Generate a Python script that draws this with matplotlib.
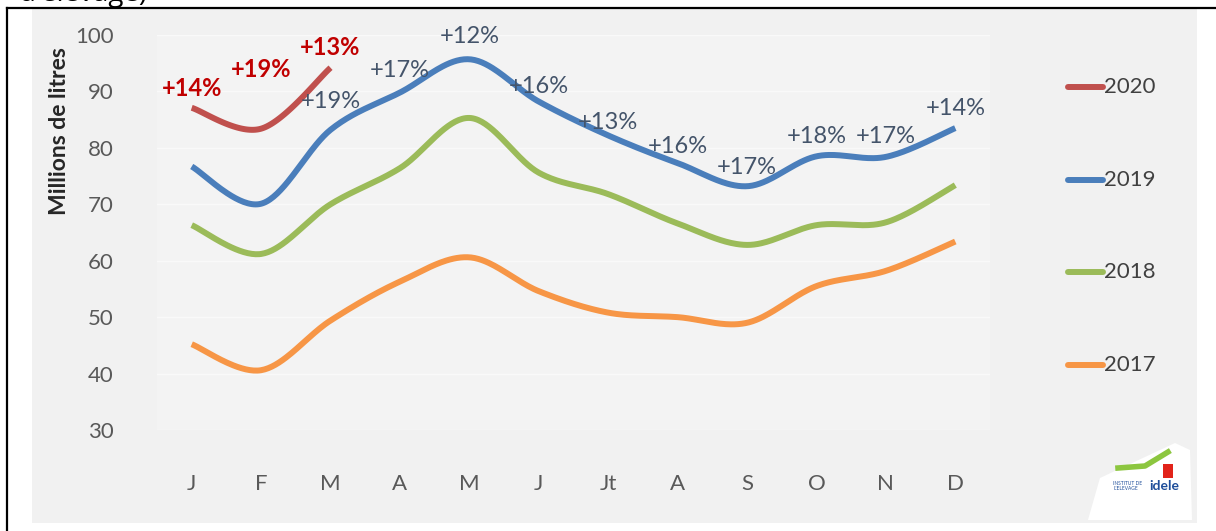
import numpy as np
import matplotlib
matplotlib.use("Agg")
import matplotlib.pyplot as plt
from matplotlib.lines import Line2D
from matplotlib.patches import Rectangle, Polygon

plt.rcParams['font.family'] = ['Lato', 'DejaVu Sans']

months = ['J', 'F', 'M', 'A', 'M', 'J', 'Jt', 'A', 'S', 'O', 'N', 'D']
v2017 = [45.2, 40.6, 49.4, 56.3, 60.6, 54.6, 50.8, 50.0, 49.0, 55.5, 58.2, 63.4]
v2018 = [66.3, 61.2, 70.0, 76.4, 85.3, 75.6, 71.8, 66.6, 62.8, 66.3, 66.8, 73.4]
v2019 = [76.7, 70.1, 83.2, 89.8, 95.7, 88.2, 82.2, 77.3, 73.2, 78.5, 78.4, 83.5]
v2020 = [87.1, 83.4, 94.2]

labels_2020 = ['+14%', '+19%', '+13%']
labels_2019 = ['+19%', '+17%', '+12%', '+16%', '+13%', '+16%', '+17%', '+18%', '+17%', '+14%']
# label positions: (month index, y value in data units)
pos_2020 = [(0, 90.6), (1, 93.9), (2, 97.7)]
pos_2019 = [(2, 88.3), (3, 93.7), (4, 99.8), (5, 90.9), (6, 84.5), (7, 80.3), (8, 76.5), (9, 82.0), (10, 82.0), (11, 87.0)]

years = ['2020', '2019', '2018', '2017']
colors = {'2020': '#c0504d', '2019': '#4a7ebb', '2018': '#9bbb59', '2017': '#f79646'}


def smooth(y, n=40):
    # excel-like bezier smoothing between points
    x = np.arange(len(y), dtype=float)
    y = np.asarray(y, dtype=float)
    pts = np.column_stack([x, y])
    out = []
    for i in range(len(pts) - 1):
        p0 = pts[i]
        p3 = pts[i + 1]
        pm = pts[i - 1] if i > 0 else p0
        pp = pts[i + 2] if i + 2 < len(pts) else p3
        c1 = p0 + (p3 - pm) / 6
        c2 = p3 - (pp - p0) / 6
        t = np.linspace(0, 1, n)[:, None]
        seg = (1 - t) ** 3 * p0 + 3 * (1 - t) ** 2 * t * c1 + 3 * (1 - t) * t ** 2 * c2 + t ** 3 * p3
        out.append(seg if i == 0 else seg[1:])
    out = np.vstack(out)
    return out[:, 0], out[:, 1]


fig = plt.figure(figsize=(12.16, 5.31), dpi=100)
W, H = 1216, 531

# grey panel + frame
fig.patches.append(Rectangle((32 / W, 1 - 523 / H), (1197 - 32) / W, (523 - 9) / H,
                             transform=fig.transFigure, facecolor='#f1f1f1', edgecolor='none', zorder=-10))
fig.add_artist(Line2D([7 / W, 1], [1 - 8 / H, 1 - 8 / H], color='black', lw=1.6))
fig.add_artist(Line2D([7 / W, 7 / W], [0, 1 - 8 / H], color='black', lw=1.6))
fig.text(18 / W, 1 - 1 / H, "d'élevage)", fontsize=20, va='baseline', ha='left', color='black',
         family=['Open Sans', 'DejaVu Sans'])

ax = fig.add_axes([157 / W, 1 - 430 / H, (990 - 157) / W, (430 - 35) / H])
ax.set_zorder(2)
ax.set_facecolor('#f3f3f3')

for yr, vals in [('2017', v2017), ('2018', v2018), ('2019', v2019), ('2020', v2020)]:
    xs, ys = smooth(vals)
    ax.plot(xs, ys, color=colors[yr], lw=4.3, solid_capstyle='butt', zorder=3, clip_on=False)

for txt, (i, yv) in zip(labels_2020, pos_2020):
    ax.text(i, yv, txt, color='#c00000', fontsize=17, fontweight='bold', ha='center', va='center',
            zorder=5, clip_on=False)
for txt, (i, yv) in zip(labels_2019, pos_2019):
    ax.text(i, yv, txt, color='#44546a', fontsize=17, ha='center', va='center', zorder=5, clip_on=False)

ax.set_xlim(-0.5, 11.5)
ax.set_ylim(30, 100)
ax.set_yticks(range(30, 101, 10))
ax.set_xticks(range(12))
ax.set_xticklabels(months)
ax.tick_params(axis='both', length=0, labelsize=16, labelcolor='#595959')
ax.tick_params(axis='x', pad=32)
ax.tick_params(axis='y', pad=31)
ax.grid(axis='y', color='#f9f9f9', lw=1)
ax.set_axisbelow(True)
for s in ax.spines.values():
    s.set_visible(False)

fig.text(60 / W, 1 - 131 / H, 'Millions de litres', rotation=90, fontsize=16.5, fontweight='bold',
         color='#262626', ha='center', va='center')

# legend drawn by hand on the right
leg_y = {'2020': 87, '2019': 180, '2018': 272, '2017': 365}
for yr in years:
    yy = 1 - leg_y[yr] / H
    fig.add_artist(Line2D([1068 / W, 1103 / W], [yy, yy], color=colors[yr], lw=4.3, solid_capstyle='round'))
    fig.text(1104 / W, yy, yr, fontsize=16, color='#404040', ha='left', va='center')

# small logo placeholder
logo = Polygon([[1088 / W, 1 - 520 / H], [1100 / W, 1 - 478 / H], [1175 / W, 1 - 443 / H],
                [1190 / W, 1 - 450 / H], [1192 / W, 1 - 520 / H]],
               closed=True, transform=fig.transFigure, facecolor='white', edgecolor='none')
fig.patches.append(logo)
fig.add_artist(Line2D([1118 / W, 1145 / W, 1168 / W], [1 - 468 / H, 1 - 466 / H, 1 - 452 / H],
                      color='#8cc63f', lw=4))
fig.text(1113 / W, 1 - 486 / H, "INSTITUT DE\nL'ELEVAGE", fontsize=3.5, color='#1f4e9a',
         ha='left', va='center', linespacing=1.0)
fig.text(1149 / W, 1 - 486 / H, 'idele', fontsize=10, fontweight='bold', color='#1f4e9a',
         ha='left', va='center')
fig.patches.append(Rectangle((1163 / W, 1 - 478 / H), 10 / W, 14 / H, transform=fig.transFigure,
                             facecolor='#e2231a', edgecolor='none'))

fig.savefig('out.png', dpi=100)
